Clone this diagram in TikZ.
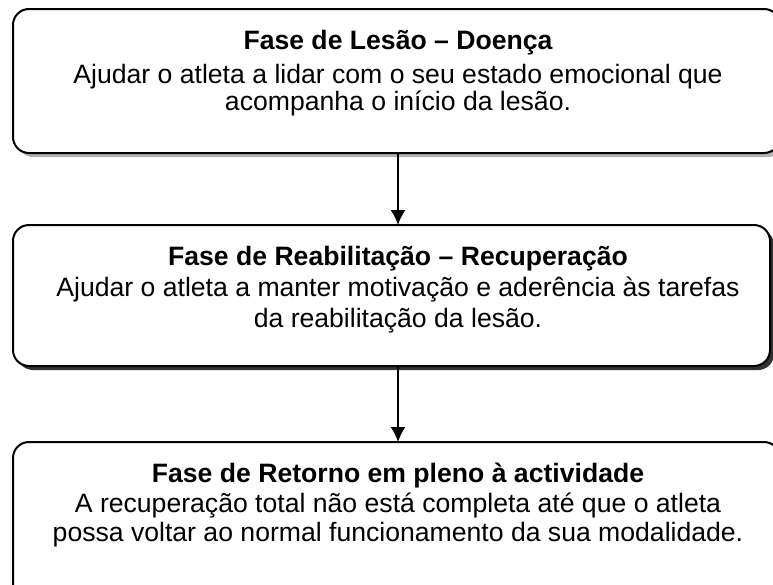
\documentclass[tikz,border=0pt]{standalone}
\usepackage{fontspec}
\setmainfont{Liberation Sans}
\usetikzlibrary{arrows.meta}
\begin{document}
\begin{tikzpicture}[x=1pt,y=1pt,
  phasebox/.style={draw=black, line width=2pt, rounded corners=16pt, fill=white},
  ln/.style={anchor=base, inner sep=0pt, font=\fontsize{26.6}{30}\selectfont},
  ttl/.style={ln, font=\fontsize{26.6}{30}\selectfont\bfseries},
  flow/.style={-{Latex[length=15pt,width=15pt]}, line width=1.6pt}]
\useasboundingbox (0,0) rectangle (773,-584);
% box 1
\fill[gray!60, rounded corners=16pt] (17,-13) rectangle (784,-157);
\draw[phasebox] (13,-9) rectangle (780,-153);
\coordinate (b1) at (398,-153);
\node[ttl] (t1a) at (398,-49) {Fase de Lesão – Doença};
\node[ln] (t1b) at (398,-83.5) {Ajudar o atleta a lidar com o seu estado emocional que};
\node[ln] (t1c) at (398,-110.5) {acompanha o início da lesão.};
% box 2
\fill[black!80, rounded corners=16pt] (17,-229) rectangle (774,-370);
\draw[phasebox] (13,-225) rectangle (770,-366);
\coordinate (a2) at (398,-225);
\coordinate (b2) at (398,-366);
\node[ttl] (t2a) at (398,-265) {Fase de Reabilitação – Recuperação};
\node[ln] (t2b) at (398,-296) {Ajudar o atleta a manter motivação e aderência às tarefas};
\node[ln] (t2c) at (398,-327) {da reabilitação da lesão.};
% box 3
\draw[phasebox] (13,-442) rectangle (780,-600);
\coordinate (a3) at (398,-442);
\node[ttl] (t3a) at (398,-482) {Fase de Retorno em pleno à actividade};
\node[ln] (t3b) at (398,-512) {A recuperação total não está completa até que o atleta};
\node[ln] (t3c) at (398,-541) {possa voltar ao normal funcionamento da sua modalidade.};
\draw[flow] (b1) -- (a2);
\draw[flow] (b2) -- (a3);
\end{tikzpicture}
\end{document}
